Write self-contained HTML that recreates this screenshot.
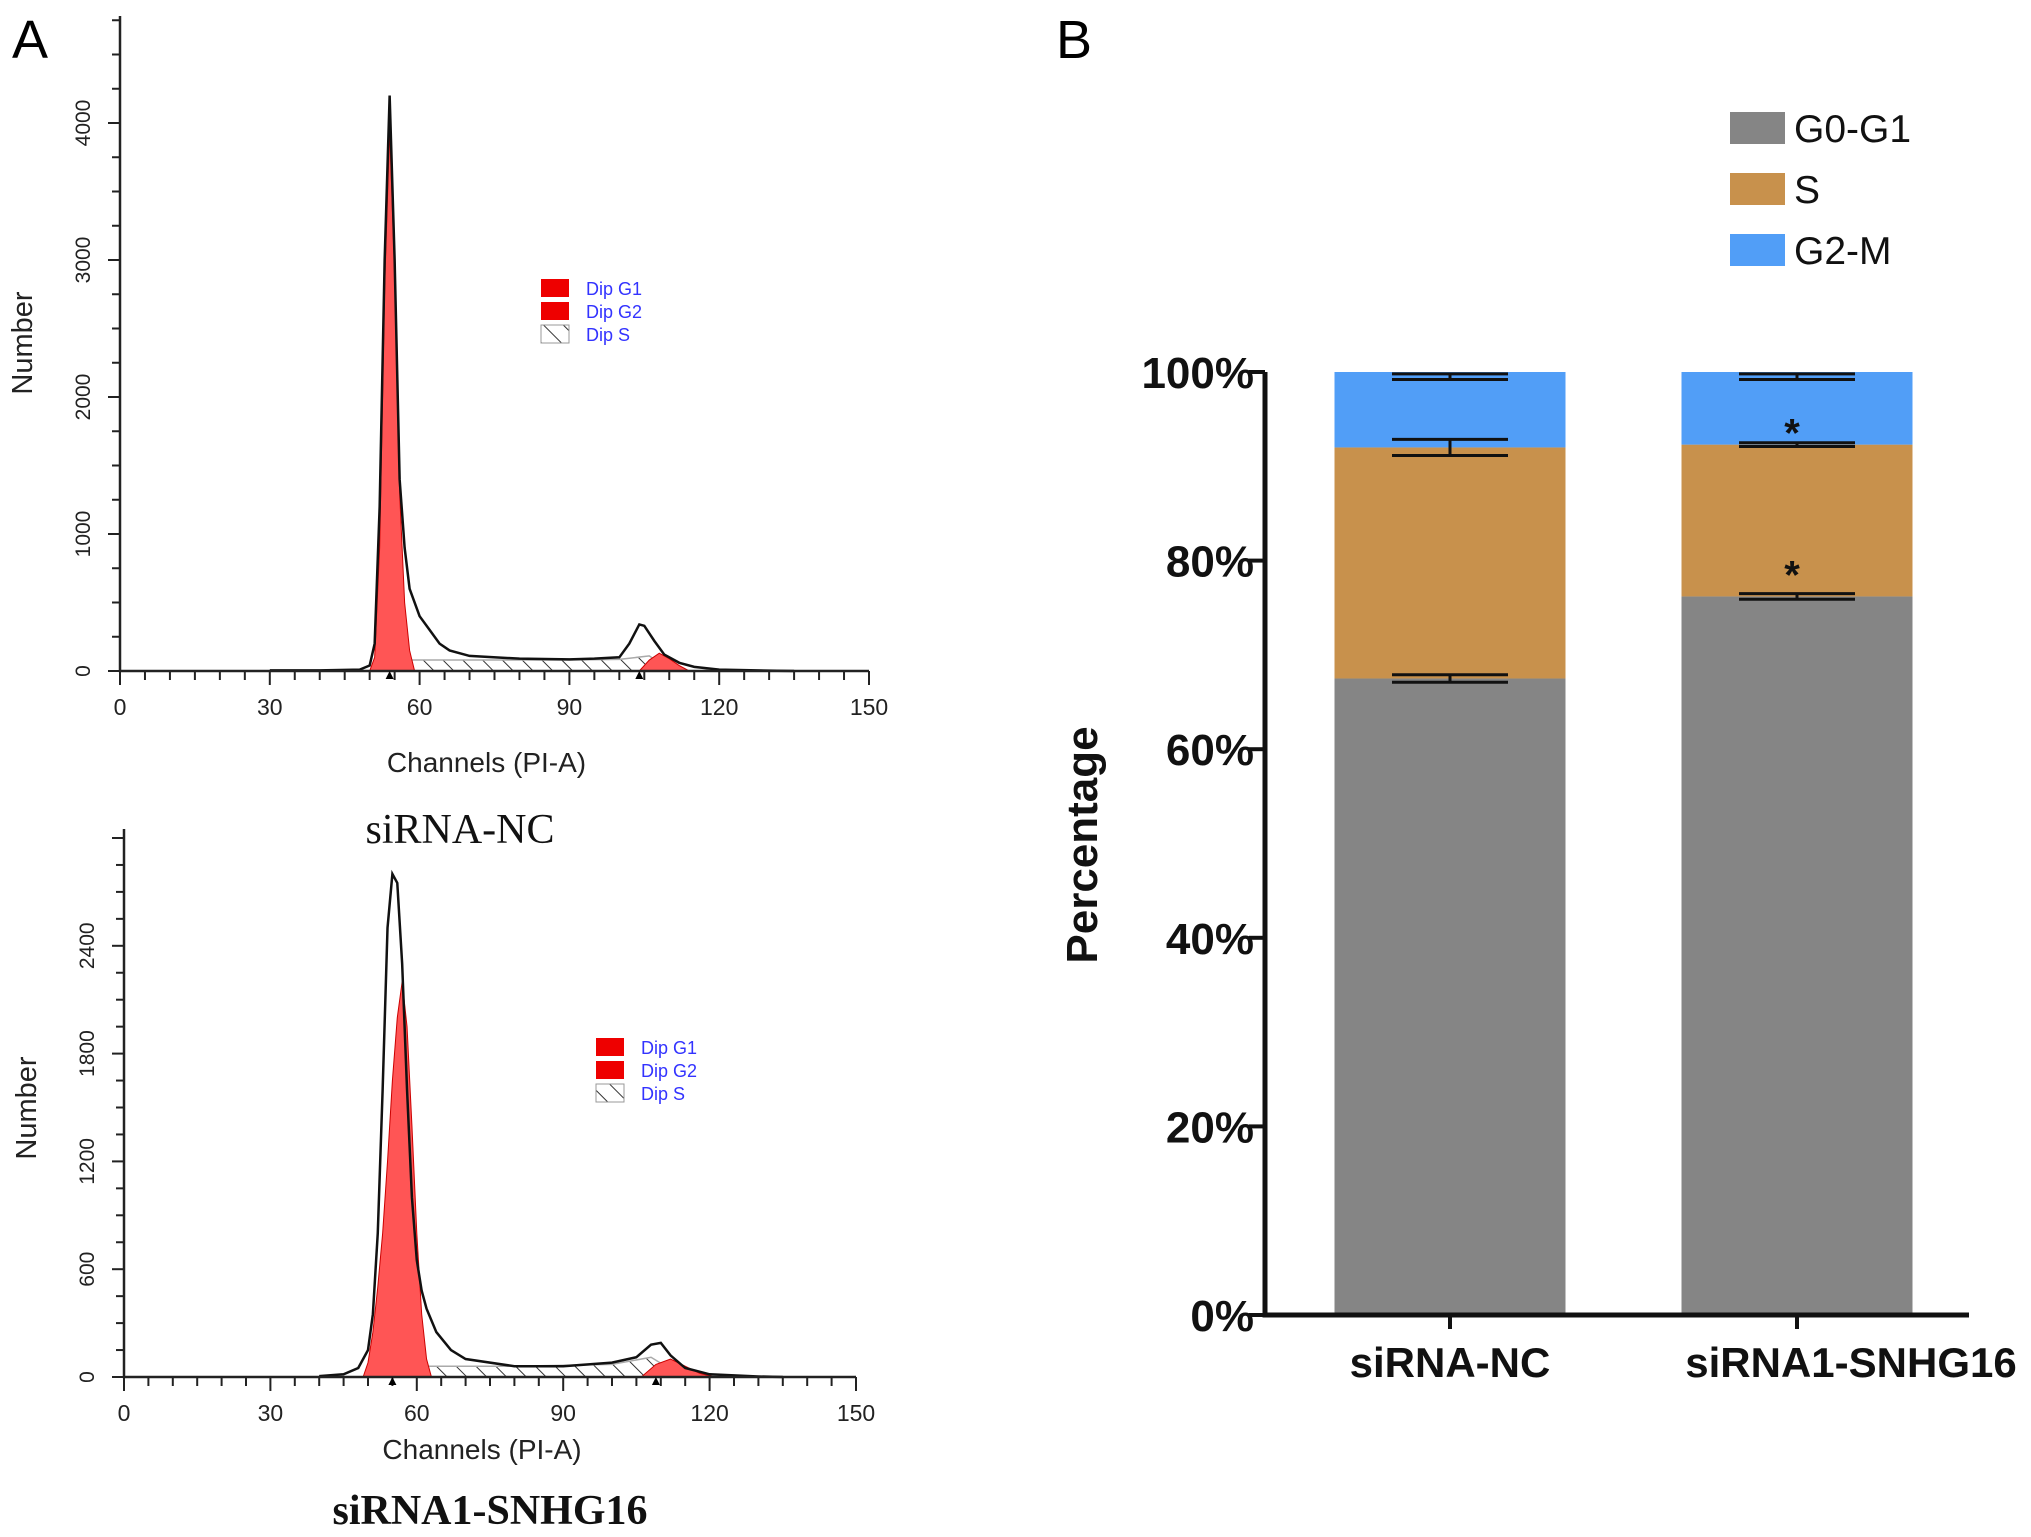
<!DOCTYPE html>
<html><head><meta charset="utf-8">
<style>
html,body{margin:0;padding:0;background:#fff;}
svg{display:block;font-family:"Liberation Sans",Arial,sans-serif;}
</style></head>
<body>
<svg id="fig" width="2031" height="1537" viewBox="0 0 2031 1537" xmlns="http://www.w3.org/2000/svg">
<defs>
<pattern id="hatch" patternUnits="userSpaceOnUse" width="14" height="14" patternTransform="rotate(-45)">
<rect width="14" height="14" fill="#fff"/><line x1="0" y1="0" x2="0" y2="14" stroke="#333" stroke-width="2"/>
</pattern>
</defs>
<text x="12" y="58" font-size="54">A</text>
<text x="1056" y="58" font-size="54">B</text>
<g id="histTop"></g>
<g id="histBot"></g>
<g id="barChart"></g>
</svg>
<script>
// ---------- Histogram data ----------
const topTotal = [[30,5],[40,5],[48,10],[50,40],[51,200],[52,1200],[53,3000],[54,4200],[55,3000],[56,1400],[57,900],[58,600],[60,400],[62,300],[64,200],[66,150],[70,110],[80,90],[90,85],[95,90],[100,100],[102,200],[104,340],[105,330],[107,220],[109,120],[112,60],[115,30],[120,10],[130,3],[135,0]];
const topG1 = [[50,0],[51,100],[52,900],[53,2800],[54,3950],[55,2900],[56,1300],[57,500],[58,150],[59,0]];
const topG2 = [[104,0],[106,80],[108,130],[110,90],[112,40],[114,0]];
const topS = [[54,0],[56,60],[58,80],[70,80],[90,80],[100,85],[106,110],[108,60],[110,0]];
const topYTicks = [0,1000,2000,3000,4000];
const botTotal = [[40,5],[45,15],[48,50],[50,150],[51,350],[52,800],[53,1600],[54,2500],[55,2800],[56,2750],[57,2300],[58,1600],[59,1000],[60,650],[61,480],[62,380],[64,250],[67,150],[70,100],[80,60],[90,60],[100,80],[105,110],[108,180],[110,190],[112,120],[115,50],[120,15],[130,3],[135,0]];
const botG1 = [[49,0],[50,80],[51,250],[52,500],[53,800],[54,1200],[55,1650],[56,2000],[57,2200],[58,1950],[59,1400],[60,800],[61,350],[62,100],[63,0]];
const botG2 = [[106,0],[109,70],[112,100],[115,60],[118,20],[121,0]];
const botS = [[55,0],[58,50],[62,60],[80,60],[100,70],[108,110],[111,60],[113,0]];
const botYTicks = [0,600,1200,1800,2400];
const xTicks = [0,30,60,90,120,150];

// ---------- Bar chart data ----------
const groups = ['siRNA-NC','siRNA1-SNHG16'];
const g0g1 = [67.5, 76.2];
const sPhase = [24.5, 16.1];
const g2m = [8.0, 7.7];
const errG0 = [0.4, 0.3];
const errS = [0.85, 0.2];
const errG2 = [0.3, 0.3];
const stars = [[false,false],[true,true]];
const pctTicks = [0,20,40,60,80,100];

const NS='http://www.w3.org/2000/svg';
function mk(parent,tag,attrs,text){const e=document.createElementNS(NS,tag);for(const k in attrs)e.setAttribute(k,attrs[k]);if(text!==undefined)e.textContent=text;parent.appendChild(e);return e;}

function hist(gid,cfg){
  const g=document.getElementById(gid);
  const X=c=>cfg.x0+(c/150)*(cfg.x1-cfg.x0);
  const Y=v=>cfg.y0-v*cfg.py;
  const area=(pts)=>{let d='M'+X(pts[0][0])+','+Y(0);pts.forEach(p=>d+=' L'+X(p[0])+','+Y(p[1]));d+=' L'+X(pts[pts.length-1][0])+','+Y(0)+' Z';return d;};
  let p=mk(g,'path',{d:area(cfg.S),fill:'url(#hatch)',stroke:'#aaa','stroke-width':1.5});
  
  p=mk(g,'path',{d:area(cfg.G1),fill:'#f55',stroke:'#c00','stroke-width':1});
  
  p=mk(g,'path',{d:area(cfg.G2),fill:'#f55',stroke:'#c00','stroke-width':1});
  
  let d='';cfg.T.forEach((q,i)=>d+=(i?' L':'M')+X(q[0])+','+Y(q[1]));
  p=mk(g,'path',{d:d,fill:'none',stroke:'#111','stroke-width':2.5});
  
  let a=mk(g,'path',{d:`M${cfg.x0},${cfg.yTop} V${cfg.y0} H${cfg.x1}`,fill:'none',stroke:'#222','stroke-width':2.5});
  
  for(let c=0;c<=150;c+=5){mk(g,'line',{x1:X(c),x2:X(c),y1:cfg.y0,y2:cfg.y0+(c%30===0?14:9),stroke:'#222','stroke-width':2});}
  xTicks.forEach(c=>{const t=mk(g,'text',{x:X(c),y:cfg.y0+44,'font-size':23,'text-anchor':'middle',fill:'#222'},c);
    });
  for(let v=0;Y(v)>=cfg.yTop;v+=cfg.minor){mk(g,'line',{x1:cfg.x0,x2:cfg.x0-(v%cfg.major===0?12:8),y1:Y(v),y2:Y(v),stroke:'#222','stroke-width':2});}
  cfg.yt.forEach(v=>{const t=mk(g,'text',{x:0,y:0,'font-size':21,'text-anchor':'middle',fill:'#222',transform:`translate(${cfg.x0-30},${Y(v)}) rotate(-90)`},v);
    });
  let t=mk(g,'text',{x:0,y:0,'font-size':29,'text-anchor':'middle',fill:'#222',transform:`translate(${cfg.x0-88},${cfg.yLab}) rotate(-90)`},'Number');
  
  t=mk(g,'text',{x:(cfg.x0+cfg.x1)/2-8,y:cfg.y0+cfg.chOff,'font-size':28,'text-anchor':'middle',fill:'#222'},'Channels (PI-A)');
  
  cfg.tri.forEach(c=>mk(g,'path',{d:`M${X(c)-4},${cfg.y0+8} L${X(c)+4},${cfg.y0+8} L${X(c)},${cfg.y0} Z`,fill:'#000'}));
  const L=cfg.leg;const names=['Dip G1','Dip G2','Dip S'];
  names.forEach((n,i)=>{const yy=L.y+i*23;
    const r=mk(g,'rect',{x:L.x,y:yy-9,width:28,height:18,fill:i<2?'#e00':'url(#hatch)',stroke:i<2?'none':'#999'});
    
    const tt=mk(g,'text',{x:L.x+45,y:yy+7,'font-size':18,fill:'#33f'},n);
    });
  t=mk(g,'text',{x:cfg.titleX,y:cfg.titleY,'font-size':42,'text-anchor':'middle',fill:'#111','font-family':'"Liberation Serif",serif','font-weight':cfg.bold?'bold':'normal'},cfg.title);
  
}
hist('histTop',{x0:120,x1:869,y0:671,yTop:16,py:137/1000,T:topTotal,G1:topG1,G2:topG2,S:topS,yt:topYTicks,minor:250,major:1000,yLab:343,tri:[54,104],leg:{x:541,y:288},title:'siRNA-NC',titleX:460,titleY:843,bold:false,chOff:101});
hist('histBot',{x0:124,x1:856,y0:1377,yTop:829,py:107.8/600,T:botTotal,G1:botG1,G2:botG2,S:botS,yt:botYTicks,minor:150,major:600,yLab:1108,tri:[55,109],leg:{x:596,y:1047},title:'siRNA1-SNHG16',titleX:490,titleY:1524,bold:true,chOff:82});

// ---------- Bar chart ----------
(function(){
  const g=document.getElementById('barChart');
  const ax={x0:1265,x1:1969,y0:1315,y100:372};
  const Y=v=>ax.y0-(v/100)*(ax.y0-ax.y100);
  const centers=[1450,1797],bw=231;
  const labelX=[1450,1851];
  const colors=['#858585','#c8914c','#519ef7'];
  groups.forEach((grp,i)=>{
    const vals=[g0g1[i],sPhase[i],g2m[i]];let base=0;
    vals.forEach((v,k)=>{const r=mk(g,'rect',{x:centers[i]-bw/2,y:Y(base+v),width:bw,height:Y(base)-Y(base+v),fill:colors[k]});
      base+=v;});
    const tops=[g0g1[i],g0g1[i]+sPhase[i],g0g1[i]+sPhase[i]+g2m[i]-0.5];
    const errs=[errG0[i],errS[i],errG2[i]];
    tops.forEach((tp,k)=>{const e=errs[k];
      const eb=mk(g,'path',{d:`M${centers[i]-58},${Y(tp+e)} H${centers[i]+58} M${centers[i]-58},${Y(tp-e)} H${centers[i]+58} M${centers[i]},${Y(tp+e)} V${Y(tp-e)}`,stroke:'#111','stroke-width':3,fill:'none'});
      });
    stars[i].forEach((s,k)=>{if(!s)return;const tp=k===0?g0g1[i]:g0g1[i]+sPhase[i];
      const st=mk(g,'text',{x:centers[i]-5,y:Y(tp)-(k===0?8:-2),'font-size':40,'font-weight':'bold','text-anchor':'middle',fill:'#111'},'*');
      });
    mk(g,'line',{x1:centers[i],x2:centers[i],y1:ax.y0,y2:ax.y0+14,stroke:'#111','stroke-width':4});
    const t=mk(g,'text',{x:labelX[i],y:ax.y0+62,'font-size':42,'font-weight':'bold','text-anchor':'middle',fill:'#111'},grp);
    
  });
  const a=mk(g,'path',{d:`M${ax.x0},${ax.y100} V${ax.y0} H${ax.x1}`,stroke:'#111','stroke-width':5,fill:'none'});
  
  pctTicks.forEach(v=>{mk(g,'line',{x1:ax.x0-16,x2:ax.x0,y1:Y(v),y2:Y(v),stroke:'#111','stroke-width':4});
    const t=mk(g,'text',{x:ax.x0-11,y:Y(v)+16,'font-size':44,'font-weight':'bold','text-anchor':'end',fill:'#111'},v+'%');
    });
  const yt=mk(g,'text',{x:0,y:0,'font-size':44,'font-weight':'bold','text-anchor':'middle',fill:'#111',transform:'translate(1097,845) rotate(-90)'},'Percentage');
  
  ['G0-G1','S','G2-M'].forEach((n,k)=>{const yy=128+k*61;
    const r=mk(g,'rect',{x:1730,y:yy-16,width:55,height:32,fill:colors[k]});
    
    const t=mk(g,'text',{x:1794,y:yy+14,'font-size':39,fill:'#111'},n);
    });
})();
</script>
</body></html>
